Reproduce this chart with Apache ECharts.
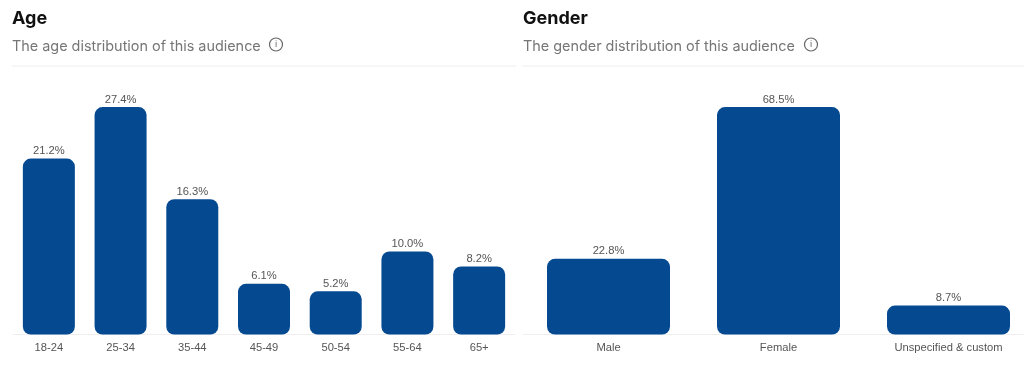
<!DOCTYPE html>
<html><head><meta charset="utf-8">
<style>html,body{margin:0;padding:0;background:#fff}#c{width:1024px;height:369px}</style>
<script src="https://cdn.jsdelivr.net/npm/echarts@6/dist/echarts.min.js"></script>
</head><body><div id="c"></div>
<script>
const ageCategories = ['18-24','25-34','35-44','45-49','50-54','55-64','65+'];
const ageValues = [21.2,27.4,16.3,6.1,5.2,10.0,8.2];
const genderCategories = ['Male','Female','Unspecified & custom'];
const genderValues = [22.8,68.5,8.7];
const BAR = '#054a91', LBL = '#555555';
const chart = echarts.init(document.getElementById('c'), null, {renderer:'canvas'});
const fmt = p => p.value.toFixed(1) + '%';
const xAxis = (i, data) => ({
  type:'category', gridIndex:i, data,
  axisLine:{show:true, lineStyle:{color:'#eeeeee', width:1}},
  axisTick:{show:false},
  axisLabel:{color:LBL, fontFamily:'Liberation Sans', fontSize:11.2, margin:8, interval:0, hideOverlap:false}
});
const yAxis = (i, max) => ({type:'value', gridIndex:i, min:0, max, show:false, splitLine:{show:false}});
const series = (i, data, w) => ({
  type:'bar', xAxisIndex:i, yAxisIndex:i, data, barWidth:w,
  itemStyle:{color:BAR, borderRadius:8},
  label:{show:true, position:'top', distance:2, formatter:fmt, color:LBL, fontFamily:'Liberation Sans', fontSize:11.2},
  silent:true
});
const head = (left, top, text, size, weight, color) => ({
  left, top, text, textStyle:{fontFamily:'Inter', fontSize:size, fontWeight:weight, color}, padding:0
});
const icon = (cx, cy) => ([
  {type:'circle', shape:{cx, cy, r:6.5}, style:{fill:'none', stroke:'#666666', lineWidth:1.2}},
  {type:'text', style:{x:cx, y:cy, text:'i', align:'center', verticalAlign:'middle', fontFamily:'Inter', fontSize:9, fill:'#666666'}}
]);
const rule = (x1, x2) => ({type:'line', shape:{x1, y1:66, x2, y2:66}, style:{stroke:'#eeeeee', lineWidth:1}});
chart.setOption({
  animation:false,
  backgroundColor:'#ffffff',
  title:[
    head(12, 10, 'Age', 18, 700, '#111111'),
    head(12, 40, 'The age distribution of this audience', 14.4, 400, '#767676'),
    head(523, 10, 'Gender', 18, 700, '#111111'),
    head(523, 40, 'The gender distribution of this audience', 14.4, 400, '#767676')
  ],
  grid:[
    {left:13, width:502, top:85.5, height:249, outerBoundsMode:'none'},
    {left:523.5, width:510, top:85.5, height:249, outerBoundsMode:'none'}
  ],
  xAxis:[xAxis(0, ageCategories), xAxis(1, genderCategories)],
  yAxis:[yAxis(0, 30), yAxis(1, 75)],
  series:[series(0, ageValues, 52), series(1, genderValues, 123)],
  graphic:[rule(12, 516), rule(522, 1024), ...icon(276, 44.5), ...icon(811, 44.5)]
});
</script></body></html>
